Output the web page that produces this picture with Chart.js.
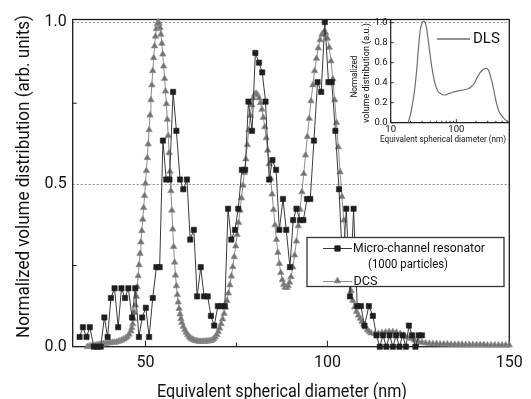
<!DOCTYPE html>
<html>
<head>
<meta charset="utf-8">
<script src="https://cdn.jsdelivr.net/npm/chart.js@4.4.1/dist/chart.umd.min.js"></script>
<style>
  body { margin: 0; background: #fff; }
  #wrap { position: relative; width: 531px; height: 399px; }
  #main { position: absolute; left: 0; top: 0; }
  #inset { position: absolute; left: 330px; top: 10px; }
</style>
</head>
<body>
<div id="wrap">
  <canvas id="main" width="531" height="399"></canvas>
  <canvas id="inset" width="190" height="140"></canvas>
</div>
<script>
'use strict';

// micro-channel resonator histogram (diameter nm, normalized volume)
const mcrDiameter = [
  31.9, 32.8, 33.8, 34.7, 35.8, 36.8, 37.7, 38.7, 39.6, 40.5,
  41.5, 42.5, 43.4, 44.4, 45.3, 46.3, 47.2, 48.2, 49.1, 50.1,
  51.0, 52.0, 53.0, 53.9, 54.8, 55.7, 56.6, 57.6, 58.5, 59.5,
  60.4, 61.4, 62.3, 63.3, 64.2, 65.2, 66.1, 67.1, 68.0, 68.9,
  69.9, 70.8, 71.8, 72.7, 73.6, 74.6, 75.5, 76.5, 77.4, 78.3,
  79.3, 80.2, 81.2, 82.1, 83.0, 84.0, 84.9, 85.9, 86.8, 87.8,
  88.7, 89.7, 90.6, 91.5, 92.5, 93.4, 94.4, 95.3, 96.3, 97.3,
  98.3, 99.3, 100.3, 101.2, 102.2, 103.2, 104.2, 105.2, 106.2, 107.2,
  108.2, 109.2, 110.2, 111.4, 112.5, 113.5, 114.4, 115.3, 116.2, 117.1,
  118.0, 118.9, 119.8, 120.7, 121.6, 122.4, 123.3, 124.2, 125.1, 126.0
];
const mcrVolume = [
  0.03, 0.06, 0.03, 0.06, 0.0, 0.0, 0.0, 0.09, 0.03, 0.15,
  0.18, 0.06, 0.18, 0.15, 0.18, 0.09, 0.18, 0.03, 0.09, 0.12,
  0.03, 0.15, 0.245, 0.245, 0.635, 0.515, 0.515, 0.785, 0.665, 0.515,
  0.485, 0.515, 0.33, 0.36, 0.155, 0.245, 0.155, 0.155, 0.095, 0.065,
  0.125, 0.125, 0.125, 0.425, 0.33, 0.36, 0.425, 0.545, 0.545, 0.755,
  0.665, 0.905, 0.875, 0.845, 0.755, 0.515, 0.575, 0.545, 0.36, 0.455,
  0.36, 0.245, 0.39, 0.425, 0.39, 0.39, 0.455, 0.455, 0.635, 0.815,
  0.785, 1.0, 0.815, 0.815, 0.665, 0.485, 0.245, 0.425, 0.155, 0.425,
  0.125, 0.125, 0.065, 0.125, 0.095, 0.035, 0.0, 0.035, 0.0, 0.035,
  0.0, 0.035, 0.0, 0.035, 0.0, 0.065, 0.035, 0.0, 0.035, 0.035
];

// DCS curve
const dcsDiameter = [
  34.0, 34.5, 35.0, 35.5, 36.0, 36.5, 37.0, 37.5, 38.0, 38.5,
  39.0, 39.5, 40.0, 40.5, 41.0, 41.5, 42.0, 42.5, 43.0, 43.5,
  44.0, 44.5, 45.0, 45.5,
  46.00, 46.25, 46.50, 46.75, 47.00, 47.25, 47.50, 47.75, 48.00, 48.25,
  48.50, 48.75, 49.00, 49.25, 49.50, 49.75, 50.00, 50.25, 50.50, 50.75,
  51.00, 51.25, 51.50, 51.75, 52.00, 52.25, 52.50, 52.75, 53.00, 53.25,
  53.50, 53.75, 54.00, 54.25, 54.50, 54.75, 55.00, 55.25, 55.50, 55.75,
  56.00, 56.25, 56.50, 56.75, 57.00, 57.25, 57.50, 57.75, 58.00, 58.25,
  58.50, 58.75, 59.00, 59.25, 59.50, 59.75,
  60.0, 60.4, 60.8, 61.2, 61.6, 62.0, 62.4, 62.8, 63.2, 63.6,
  64.0, 64.4, 64.8, 65.2, 65.6, 66.0, 66.4, 66.8, 67.2, 67.6,
  68.0, 68.4, 68.8, 69.2, 69.6, 70.0, 70.4, 70.8, 71.2, 71.6,
  72.0, 72.4, 72.8, 73.2, 73.6, 74.0, 74.4, 74.8, 75.2, 75.6,
  76.0, 76.4, 76.8, 77.2, 77.6, 78.0, 78.4, 78.8, 79.2, 79.6,
  80.0, 80.4, 80.8, 81.2, 81.6, 82.0, 82.4, 82.8, 83.2, 83.6,
  84.0, 84.4, 84.8, 85.2, 85.6, 86.0, 86.4, 86.8, 87.2, 87.6,
  88.0, 88.4, 88.8, 89.2, 89.6, 90.0,
  90.5, 91.0, 91.5, 92.0, 92.5, 93.0, 93.5, 94.0, 94.5, 95.0,
  95.5, 96.0, 96.5, 97.0, 97.5, 98.0, 98.5, 99.0, 99.5, 100.0,
  100.5, 101.0, 101.5, 102.0, 102.5, 103.0, 103.5, 104.0, 104.5, 105.0,
  105.5, 106.0, 106.5, 107.0, 107.5, 108.0, 108.5, 109.0, 109.5, 110.0,
  110.5, 111.0, 111.5, 112.0,
  113, 114, 115, 116, 117, 118, 119, 120, 121, 122,
  123, 124, 125, 126, 127, 128, 129, 130, 131, 132,
  133, 134, 135, 136, 137, 138, 139, 140, 141, 142,
  143, 144, 145, 146, 147, 148, 149, 150
];
const dcsVolume = [
  0.000, 0.001, 0.002, 0.003, 0.004, 0.005, 0.006, 0.007, 0.008, 0.009,
  0.010, 0.011, 0.012, 0.012, 0.013, 0.013, 0.014, 0.016, 0.018, 0.020,
  0.023, 0.026, 0.031, 0.038,
  0.048, 0.058, 0.070, 0.086, 0.105, 0.128, 0.155, 0.185, 0.218, 0.252,
  0.287, 0.322, 0.357, 0.392, 0.428, 0.465, 0.503, 0.542, 0.582, 0.624,
  0.668, 0.713, 0.760, 0.806, 0.850, 0.890, 0.926, 0.956, 0.979, 0.994,
  1.000, 0.996, 0.983, 0.962, 0.934, 0.901, 0.864, 0.826, 0.787, 0.748,
  0.700, 0.650, 0.597, 0.540, 0.480, 0.420, 0.362, 0.308, 0.260, 0.220,
  0.187, 0.160, 0.137, 0.117, 0.100, 0.086,
  0.074, 0.062, 0.052, 0.044, 0.037, 0.031, 0.026, 0.023, 0.021, 0.019,
  0.018, 0.017, 0.016, 0.016, 0.016, 0.016, 0.016, 0.017, 0.017, 0.018,
  0.019, 0.021, 0.025, 0.030, 0.037, 0.046, 0.057, 0.070, 0.085, 0.102,
  0.121, 0.142, 0.165, 0.190, 0.217, 0.246, 0.277, 0.310, 0.345, 0.382,
  0.420, 0.458, 0.497, 0.536, 0.578, 0.622, 0.668, 0.712, 0.745, 0.766,
  0.777, 0.780, 0.776, 0.766, 0.751, 0.731, 0.706, 0.677, 0.643, 0.605,
  0.563, 0.518, 0.470, 0.422, 0.375, 0.330, 0.290, 0.256, 0.228, 0.206,
  0.191, 0.183, 0.182, 0.187, 0.198, 0.215,
  0.245, 0.282, 0.325, 0.372, 0.423, 0.477, 0.533, 0.590, 0.647, 0.703,
  0.757, 0.806, 0.850, 0.888, 0.920, 0.945, 0.962, 0.970, 0.967, 0.950,
  0.922, 0.880, 0.825, 0.760, 0.690, 0.615, 0.538, 0.462, 0.390, 0.322,
  0.262, 0.212, 0.172, 0.142, 0.122, 0.108, 0.097, 0.087, 0.078, 0.069,
  0.060, 0.052, 0.046, 0.042,
  0.040, 0.041, 0.043, 0.045, 0.046, 0.046, 0.044, 0.040, 0.035, 0.030,
  0.025, 0.020, 0.016, 0.013, 0.011, 0.010, 0.009, 0.009, 0.008, 0.008,
  0.008, 0.007, 0.007, 0.007, 0.007, 0.006, 0.006, 0.006, 0.006, 0.006,
  0.006, 0.005, 0.005, 0.005, 0.005, 0.005, 0.005, 0.005
];

// DLS inset curve
const dlsDiameter = [
  18.4, 20, 21.1, 22.5, 23.7, 25, 26, 27, 28.2, 29.5,
  30.9, 32.2, 33.5, 35.5, 37, 38.9, 42.2, 47.3, 53, 58,
  63, 70, 75, 85, 94, 110, 126, 150, 168, 190,
  211, 230, 251, 270, 288, 305, 316, 335, 355, 375,
  398, 420, 447, 490, 531, 580, 625
];
const dlsVolume = [
  0.0, 0.08, 0.16, 0.27, 0.39, 0.54, 0.69, 0.81, 0.93, 0.98,
  1.01, 1.015, 1.0, 0.93, 0.84, 0.73, 0.56, 0.39, 0.31, 0.29,
  0.277, 0.28, 0.29, 0.30, 0.31, 0.32, 0.327, 0.34, 0.36, 0.40,
  0.46, 0.50, 0.527, 0.54, 0.543, 0.53, 0.51, 0.45, 0.39, 0.31,
  0.227, 0.165, 0.11, 0.07, 0.043, 0.02, 0.008
];

// ticks
const xTickValues = [50, 100, 150];
const xMinorTicks = [75, 125];
const yTickValues = [0, 0.5, 1.0];
const yMinorTicks = [0.25, 0.75];
const yGridValues = [0.5, 1.0];
const insetXTickValues = [10, 100];
const insetXMinorTicks = [20, 30, 40, 50, 60, 70, 80, 90, 200, 300, 400, 500, 600];
const insetYTickValues = [0, 0.2, 0.4, 0.6, 0.8, 1.0];

const mcrName = 'Micro-channel resonator';
const mcrNote = '(1000 particles)';
const dcsName = 'DCS';
const dlsName = 'DLS';

const FONT = 'Roboto, "Open Sans", sans-serif';

function toPoints(xs, ys) {
  return xs.map((x, i) => ({ x: x, y: ys[i] }));
}

function fixedTicks(values) {
  return function (scale) {
    scale.ticks = values.map(v => ({ value: v }));
  };
}

function tickLine(ctx, x1, y1, x2, y2) {
  ctx.beginPath();
  ctx.moveTo(x1, y1);
  ctx.lineTo(x2, y2);
  ctx.stroke();
}

// frame, dotted grid, inward ticks, legend and titles
const mainDecor = {
  id: 'mainDecor',
  beforeDatasetsDraw(chart) {
    const { ctx, chartArea: a, scales: { x, y } } = chart;
    ctx.save();
    ctx.strokeStyle = '#8a8a8a';
    ctx.lineWidth = 1;
    ctx.setLineDash([2, 2]);
    yGridValues.forEach(v => {
      const py = Math.round(y.getPixelForValue(v)) + 0.5;
      tickLine(ctx, a.left, py, a.right, py);
    });
    ctx.setLineDash([]);
    ctx.strokeStyle = '#1a1a1a';
    ctx.lineWidth = 1.3;
    ctx.strokeRect(a.left, a.top, a.right - a.left, a.bottom - a.top);
    ctx.lineWidth = 1;
    xTickValues.forEach(v => {
      const px = x.getPixelForValue(v);
      tickLine(ctx, px, a.bottom, px, a.bottom - 6);
    });
    xMinorTicks.forEach(v => {
      const px = x.getPixelForValue(v);
      tickLine(ctx, px, a.bottom, px, a.bottom - 4);
    });
    yMinorTicks.forEach(v => {
      const py = y.getPixelForValue(v);
      tickLine(ctx, a.left, py, a.left + 4, py);
    });
    ctx.restore();
  },
  afterDatasetsDraw(chart) {
    const ctx = chart.ctx;
    const ds = chart.data.datasets;
    ctx.save();
    // legend box
    ctx.fillStyle = '#fff';
    ctx.fillRect(307, 237.5, 197, 49);
    ctx.strokeStyle = '#333';
    ctx.lineWidth = 1.3;
    ctx.strokeRect(307, 237.5, 197, 49);

    ctx.strokeStyle = ds[0].borderColor;
    ctx.lineWidth = 1;
    tickLine(ctx, 323, 248.5, 352, 248.5);
    ctx.fillStyle = ds[0].pointBackgroundColor;
    ctx.strokeStyle = ds[0].pointBorderColor;
    Chart.helpers.drawPoint(ctx, { pointStyle: 'rect', radius: 3.7, borderWidth: 0.6, rotation: 0 }, 337.5, 248.5);

    ctx.strokeStyle = ds[1].borderColor;
    ctx.lineWidth = 1;
    tickLine(ctx, 323, 281.5, 352, 281.5);
    ctx.fillStyle = ds[1].pointBackgroundColor;
    ctx.strokeStyle = ds[1].pointBorderColor;
    Chart.helpers.drawPoint(ctx, { pointStyle: 'triangle', radius: 3.7, borderWidth: 0.7, rotation: 0 }, 337.5, 281);

    ctx.fillStyle = '#111';
    ctx.font = '13px ' + FONT;
    ctx.textBaseline = 'middle';
    ctx.textAlign = 'left';
    ctx.fillText(mcrName, 353, 248.5, 132);
    ctx.fillText(mcrNote, 368, 265, 80);
    ctx.fillText(dcsName, 353.5, 281.5, 24);
    ctx.restore();
  },
  afterDraw(chart) {
    const ctx = chart.ctx;
    ctx.save();
    ctx.fillStyle = '#111';
    ctx.font = '17.5px ' + FONT;
    ctx.textAlign = 'center';
    ctx.textBaseline = 'alphabetic';
    ctx.fillText('Equivalent spherical diameter (nm)', 282, 396.5, 250);
    ctx.translate(29.3, 176.5);
    ctx.rotate(-Math.PI / 2);
    ctx.fillText('Normalized volume distribution (arb. units)', 0, 0, 323);
    ctx.restore();
  }
};

new Chart(document.getElementById('main'), {
  type: 'scatter',
  data: {
    datasets: [
      {
        label: mcrName,
        data: toPoints(mcrDiameter, mcrVolume),
        showLine: true,
        borderColor: '#3a3a3a',
        borderWidth: 1,
        pointStyle: 'rect',
        pointRadius: 3.7,
        pointBackgroundColor: '#1e1e1e',
        pointBorderColor: '#1e1e1e',
        pointBorderWidth: 0.6,
        clip: false
      },
      {
        label: dcsName,
        data: toPoints(dcsDiameter, dcsVolume),
        showLine: true,
        borderColor: '#8c8c8c',
        borderWidth: 1,
        pointStyle: 'triangle',
        pointRadius: 3.7,
        pointBackgroundColor: '#727272',
        pointBorderColor: '#909090',
        pointBorderWidth: 0.7,
        clip: false
      }
    ]
  },
  options: {
    responsive: false,
    animation: false,
    devicePixelRatio: 1,
    layout: { padding: { top: 19.5, right: 21.7, left: 0, bottom: 0 } },
    plugins: { legend: { display: false }, tooltip: { enabled: false } },
    scales: {
      x: {
        type: 'linear',
        min: 30,
        max: 150,
        afterBuildTicks: fixedTicks(xTickValues),
        afterFit: s => { s.height = 52.3; },
        grid: { display: false, drawTicks: false },
        border: { display: false },
        ticks: { padding: 7, color: '#111', font: { family: FONT, size: 16 } }
      },
      y: {
        min: 0,
        max: 1.008,
        afterBuildTicks: fixedTicks(yTickValues),
        afterFit: s => { s.width = 72.7; },
        grid: { display: false, drawTicks: false },
        border: { display: false },
        ticks: {
          padding: 6,
          color: '#111',
          font: { family: FONT, size: 16 },
          callback: v => Number(v).toFixed(1)
        }
      }
    }
  },
  plugins: [mainDecor]
});

// inset: DLS on a log axis
const insetDecor = {
  id: 'insetDecor',
  beforeDatasetsDraw(chart) {
    const { ctx, chartArea: a, scales: { x, y } } = chart;
    ctx.save();
    ctx.strokeStyle = '#1a1a1a';
    ctx.lineWidth = 1.2;
    tickLine(ctx, a.left, a.top, a.left, a.bottom);
    tickLine(ctx, a.left, a.bottom, a.right, a.bottom);
    ctx.lineWidth = 0.9;
    insetXTickValues.forEach(v => {
      const px = x.getPixelForValue(v);
      tickLine(ctx, px, a.bottom, px, a.bottom - 3.5);
    });
    insetXMinorTicks.forEach(v => {
      const px = x.getPixelForValue(v);
      tickLine(ctx, px, a.bottom, px, a.bottom - 2);
    });
    insetYTickValues.forEach(v => {
      const py = y.getPixelForValue(v);
      tickLine(ctx, a.left, py, a.left + 3, py);
    });
    ctx.restore();
  },
  afterDraw(chart) {
    const ctx = chart.ctx;
    ctx.save();
    ctx.strokeStyle = chart.data.datasets[0].borderColor;
    ctx.lineWidth = 1.3;
    tickLine(ctx, 107, 29, 140, 29);
    ctx.fillStyle = '#111';
    ctx.font = '15px ' + FONT;
    ctx.textAlign = 'left';
    ctx.textBaseline = 'middle';
    ctx.fillText(dlsName, 143, 29.5, 27);

    ctx.font = '9px ' + FONT;
    ctx.textAlign = 'center';
    ctx.fillText('Equivalent spherical diameter (nm)', 113, 130, 126);
    ctx.translate(25, 66.5);
    ctx.rotate(-Math.PI / 2);
    ctx.fillText('Normalized', 0, 0, 42);
    ctx.fillText('volume distribution (a.u.)', 3.5, 12, 100);
    ctx.restore();
  }
};

new Chart(document.getElementById('inset'), {
  type: 'scatter',
  data: {
    datasets: [{
      label: dlsName,
      data: toPoints(dlsDiameter, dlsVolume),
      showLine: true,
      borderColor: '#6e6e6e',
      borderWidth: 1.2,
      pointRadius: 0,
      cubicInterpolationMode: 'monotone'
    }]
  },
  options: {
    responsive: false,
    animation: false,
    devicePixelRatio: 1,
    layout: { padding: { top: 10, right: 10.7, left: 0, bottom: 0 } },
    plugins: { legend: { display: false }, tooltip: { enabled: false } },
    scales: {
      x: {
        type: 'logarithmic',
        min: 10,
        max: 640,
        afterBuildTicks: fixedTicks(insetXTickValues),
        afterFit: s => { s.height = 27.3; },
        grid: { display: false, drawTicks: false },
        border: { display: false },
        ticks: { padding: 1, color: '#111', font: { family: FONT, size: 9.5 }, callback: v => String(v) }
      },
      y: {
        min: 0,
        max: 1.027,
        afterBuildTicks: fixedTicks(insetYTickValues),
        afterFit: s => { s.width = 60.7; },
        grid: { display: false, drawTicks: false },
        border: { display: false },
        ticks: {
          padding: 3,
          color: '#111',
          font: { family: FONT, size: 9.5 },
          callback: v => Number(v).toFixed(1)
        }
      }
    }
  },
  plugins: [insetDecor]
});
</script>
</body>
</html>
